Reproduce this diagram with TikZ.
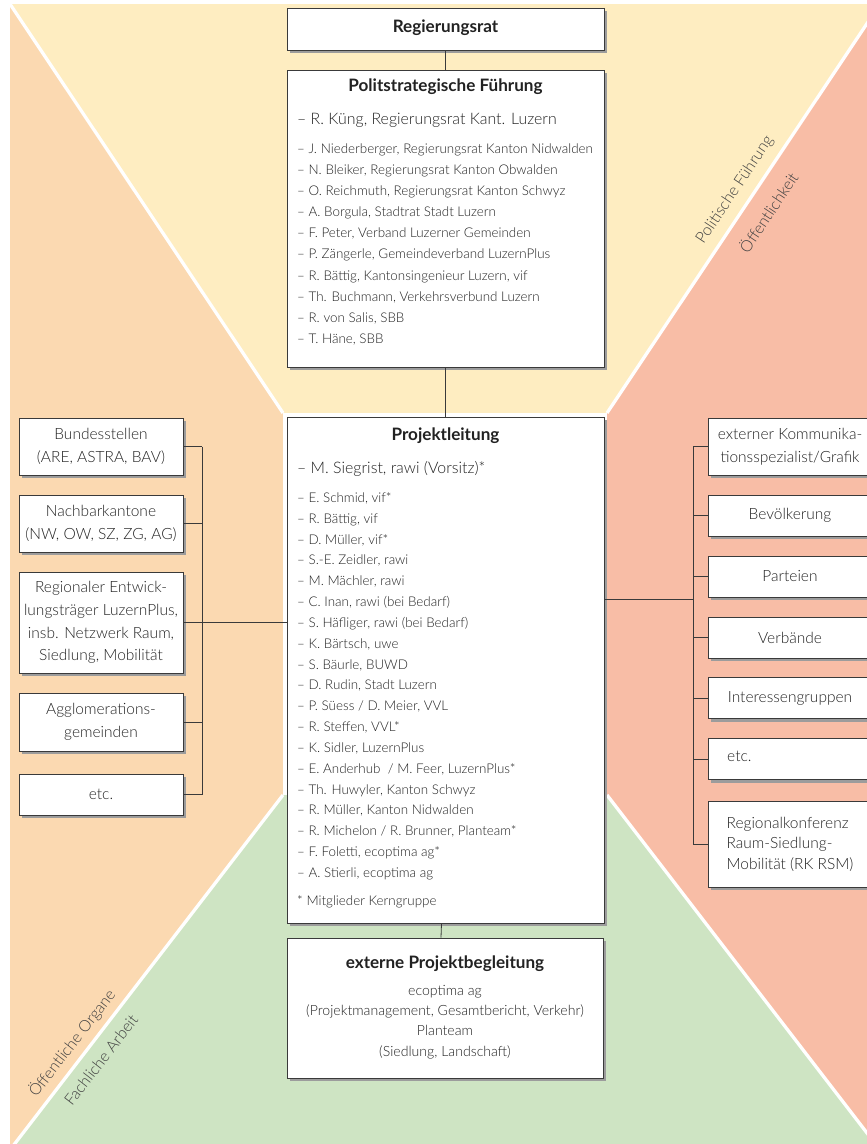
\documentclass[tikz,border=0pt]{standalone}
\usepackage{fontspec}
\IfFontExistsTF{Lato Light}{\setmainfont{Lato Light}[BoldFont={Lato Bold}]}{\setmainfont{Lato}}
\usetikzlibrary{shadows}
\definecolor{cyel}{HTML}{FEEDC1}
\definecolor{corg}{HTML}{FBD9B1}
\definecolor{csal}{HTML}{F8BDA6}
\definecolor{cgrn}{HTML}{CEE4C3}
\definecolor{boxline}{HTML}{3A3A3A}
\definecolor{shadowgray}{HTML}{9C9C9C}
\definecolor{txt}{HTML}{222222}
\newcommand{\fsm}{\fontsize{13.4}{16}\selectfont}
\newcommand{\fbg}{\fontsize{15.9}{19}\selectfont}
\newcommand{\fti}{\fontsize{17.1}{19}\selectfont\bfseries}
\begin{document}
\begin{tikzpicture}[x=1pt,y=-1pt,
  box/.style={draw=boxline, line width=0.8pt, fill=white, inner sep=0pt,
    drop shadow={shadow xshift=3pt, shadow yshift=-3pt, fill=shadowgray, opacity=1}},
  sidebox/.style={box, minimum width=164pt, align=center, text=txt,
    font=\fontsize{15.5}{22.7}\selectfont},
  conn/.style={draw=boxline, line width=0.8pt},
  item/.style={anchor=mid west, inner sep=0pt, text=txt, font=\fsm},
  big/.style={anchor=mid west, inner sep=0pt, text=txt, font=\fbg},
  title/.style={anchor=mid, inner sep=0pt, text=txt, font=\fti},
  ctext/.style={anchor=mid, inner sep=0pt, text=txt, font=\fontsize{14.1}{16}\selectfont},
  side/.style={inner sep=0pt, text=txt!85, font=\fontsize{15.8}{18}\selectfont},
  divider/.style={draw=white, line width=3.3pt}
]
\useasboundingbox (0,0) rectangle (867,1144);
% background regions
\fill[cyel] (10,4) -- (880,4) -- (607,413) -- (283,413) -- cycle;
\fill[corg] (10,4) -- (283,413) -- (283,795) -- (13,1144) -- (10,1144) -- cycle;
\fill[csal] (880,4) -- (880,1144) -- (877,1144) -- (607,795) -- (607,413) -- cycle;
\fill[cgrn] (13,1144) -- (283,795) -- (607,795) -- (877,1144) -- cycle;
\fill[white] (283,413) rectangle (607,795);
\draw[divider] (10,4) -- (283,413);
\draw[divider] (880,4) -- (607,413);
\draw[divider] (13,1146) -- (283,795);
\draw[divider] (877,1146) -- (607,795);

% region labels
\node[side, rotate=56.3] (lpol) at (735,190) {Politische Führung};
\node[side, rotate=56.3] (loef) at (768,212) {Öffentlichkeit};
\node[side, rotate=52.3] (lorg) at (72,1043) {Öffentliche Organe};
\node[side, rotate=52.3] (lfach) at (101,1060) {Fachliche Arbeit};

% main column
\node[box, minimum width=317pt, minimum height=42pt] (reg) at (445.5,29) {};
\node[title] (regt) at (445.5,30) {Regierungsrat};

\node[box, minimum width=317pt, minimum height=297pt] (pol) at (445.5,218.5) {};
\node[title] (polt) at (445.5,89) {Politstrategische Führung};
\node[big] (pol0) at (297,122) {– R. Küng, Regierungsrat Kant. Luzern};
\foreach \t [count=\i from 0] in {
  {– J. Niederberger, Regierungsrat Kanton Nidwalden},
  {– N. Bleiker, Regierungsrat Kanton Obwalden},
  {– O. Reichmuth, Regierungsrat Kanton Schwyz},
  {– A. Borgula, Stadtrat Stadt Luzern},
  {– F. Peter, Verband Luzerner Gemeinden},
  {– P. Zängerle, Gemeindeverband LuzernPlus},
  {– R. Bättig, Kantonsingenieur Luzern, vif},
  {– Th. Buchmann, Verkehrsverbund Luzern},
  {– R. von Salis, SBB},
  {– T. Häne, SBB}}
  \node[item] (pol\i) at (297,{151+21.1*\i}) {\t};

\node[box, minimum width=317pt, minimum height=506pt] (proj) at (445.5,670) {};
\node[title] (projt) at (445.5,438) {Projektleitung};
\node[big] (projv) at (297,471) {– M. Siegrist, rawi (Vorsitz)*};
\foreach \t [count=\i from 0] in {
  {– E. Schmid, vif*},
  {– R. Bättig, vif},
  {– D. Müller, vif*},
  {– S.-E. Zeidler, rawi},
  {– M. Mächler, rawi},
  {– C. Inan, rawi (bei Bedarf)},
  {– S. Häfliger, rawi (bei Bedarf)},
  {– K. Bärtsch, uwe},
  {– S. Bäurle, BUWD},
  {– D. Rudin, Stadt Luzern},
  {– P. Süess / D. Meier, VVL},
  {– R. Steffen, VVL*},
  {– K. Sidler, LuzernPlus},
  {– E. Anderhub \ / M. Feer, LuzernPlus*},
  {– Th. Huwyler, Kanton Schwyz},
  {– R. Müller, Kanton Nidwalden},
  {– R. Michelon / R. Brunner, Planteam*},
  {– F. Foletti, ecoptima ag*},
  {– A. Stierli, ecoptima ag}}
  \node[item] (proj\i) at (297,{500+20.83*\i}) {\t};
\node[item] (projk) at (297,903) {* Mitglieder Kerngruppe};

\node[box, minimum width=316pt, minimum height=140pt] (ext) at (445,1008) {};
\node[title] (extt) at (445,966) {externe Projektbegleitung};
\node[ctext] (ext1) at (445,993) {ecoptima ag};
\node[ctext] (ext2) at (445,1013) {(Projektmanagement, Gesamtbericht, Verkehr)};
\node[ctext] (ext3) at (445,1033) {Planteam};
\node[ctext] (ext4) at (445,1054) {(Siedlung, Landschaft)};

\draw[conn] (reg.south) -- (pol.north);
\draw[conn] (pol.south) -- (proj.north);
\draw[conn] ([xshift=-4pt]proj.south) -- ([xshift=-4pt]ext.north);

% left boxes
\node[sidebox, minimum height=57pt] (b1) at (101,446.5) {Bundesstellen\\(ARE, ASTRA, BAV)};
\node[sidebox, minimum height=57pt] (b2) at (101,523.5) {Nachbarkantone\\(NW, OW, SZ, ZG, AG)};
\node[sidebox, minimum height=101pt] (b3) at (101,622.5) {Regionaler Entwick-\\lungsträger LuzernPlus,\\insb. Netzwerk Raum,\\Siedlung, Mobilität};
\node[sidebox, minimum height=58pt] (b4) at (101,722) {Agglomerations-\\gemeinden};
\node[sidebox, minimum height=41pt] (b5) at (101,794.5) {etc.};
\coordinate (lbus) at (202,446.5);
\foreach \b in {b1,b2,b4,b5}
  \draw[conn] (\b.east) -- (\b.east -| lbus);
\draw[conn] (b1.east -| lbus) -- (b5.east -| lbus);
\draw[conn] (b3.east) -- (b3.east -| proj.west);

% right boxes
\node[sidebox, minimum height=57pt] (r1) at (790,446.5) {externer Kommunika-\\tionsspezialist/Grafik};
\node[sidebox, minimum height=41pt] (r2) at (790,515.5) {Bevölkerung};
\node[sidebox, minimum height=41pt] (r3) at (790,576.5) {Parteien};
\node[sidebox, minimum height=41pt] (r4) at (790,637.5) {Verbände};
\node[sidebox, minimum height=41pt] (r5) at (790,698) {Interessengruppen};
\node[sidebox, minimum height=41pt] (r6) at (790,759) {};
\node[big, font=\fontsize{15.5}{19}\selectfont] (r6t) at (727,759) {etc.};
\node[sidebox, minimum height=86pt, align=left, font=\fontsize{15.5}{20.5}\selectfont] (r7) at (790,844) {Regionalkonferenz\\Raum-Siedlung-\\Mobilität (RK RSM)};
\coordinate (rbus) at (693,446.5);
\coordinate (rmain) at (693,599);
\foreach \b in {r1,r2,r3,r4,r5,r6,r7}
  \draw[conn] (\b.west -| rbus) -- (\b.west);
\draw[conn] (r1.west -| rbus) -- (r7.west -| rbus);
\draw[conn] (rmain -| proj.east) -- (rmain);
\end{tikzpicture}
\end{document}
